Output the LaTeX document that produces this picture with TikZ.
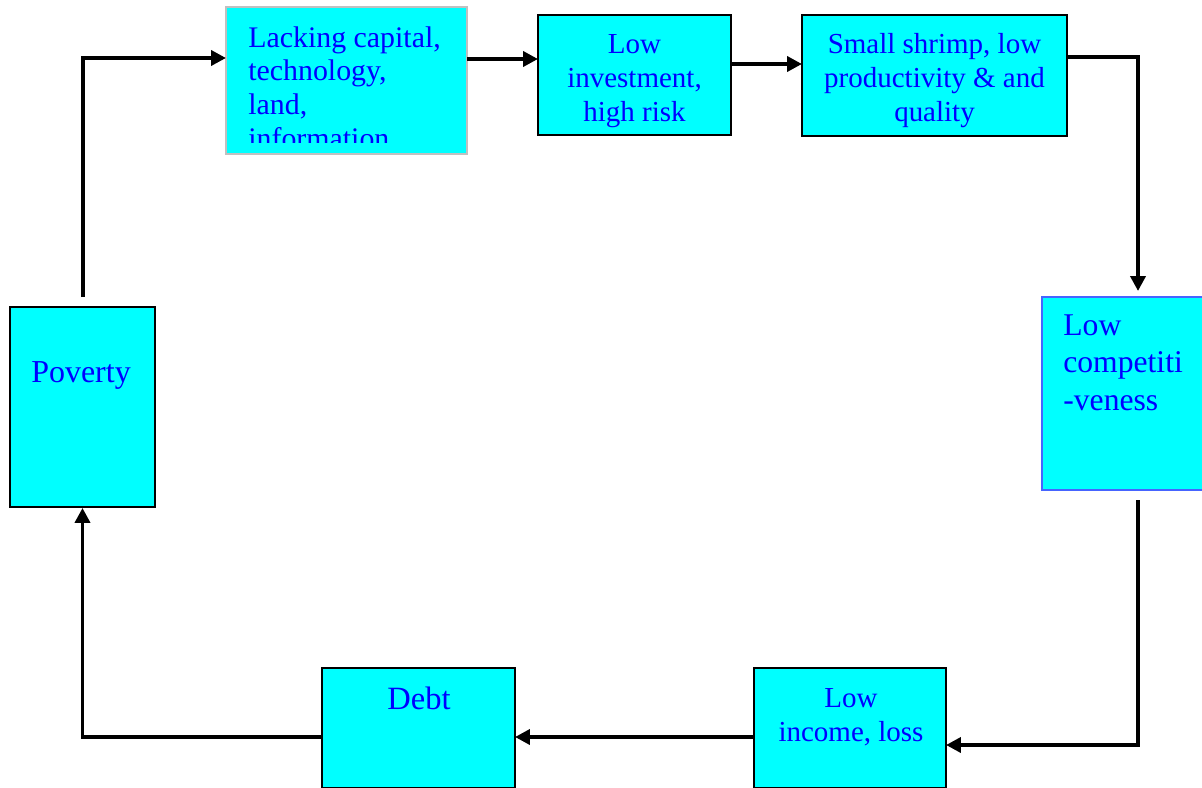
\documentclass[tikz,border=0pt]{standalone}
\usepackage{fontspec}
\setmainfont{Liberation Serif}
\usetikzlibrary{arrows.meta}
\definecolor{boxfill}{RGB}{0,255,255}
\definecolor{boxtext}{RGB}{0,0,255}
\definecolor{greyline}{RGB}{192,192,192}
\definecolor{blueline}{RGB}{70,100,255}

\begin{document}
\begin{tikzpicture}[x=0.02cm, y=-0.02cm, >={Triangle[length=8.5pt,width=8.5pt]},
  box/.style={draw, line width=1.1pt, fill=boxfill, inner sep=0pt},
  txt/.style={text=boxtext, inner sep=0pt, font=\fontsize{16.5}{19.4}\selectfont},
  link/.style={line width=2.1pt}]
  \useasboundingbox (0,0) rectangle (1202,787);
  % boxes
  \node[box, draw=greyline, minimum width=4.82cm, minimum height=2.94cm] (lack) at (346.5,80.5) {};
  \node[box, minimum width=3.86cm, minimum height=2.4cm] (inv) at (634.5,75) {};
  \node[box, minimum width=5.3cm, minimum height=2.42cm] (shrimp) at (934.5,75.5) {};
  \node[box, draw=blueline, minimum width=3.86cm, minimum height=3.86cm] (comp) at (1138.5,393.5) {};
  \node[box, minimum width=2.9cm, minimum height=4cm] (pov) at (82.5,407) {};
  \node[box, minimum width=3.86cm, minimum height=2.4cm] (debt) at (418.5,728) {};
  \node[box, minimum width=3.84cm, minimum height=2.4cm] (inc) at (850,728) {};
  % texts
  \begin{scope}
    \clip (228,9) rectangle (465,143);
    \node[txt, anchor=north west, align=left, font=\fontsize{17}{19.2}\selectfont] (lacktxt) at (248,26) {Lacking capital,\\technology,\\land,\\information};
  \end{scope}
  \node[txt, anchor=north, align=center] (invtxt) at (634.5,34) {Low\\investment,\\high risk};
  \node[txt, anchor=north, align=center] (shrimptxt) at (934.5,33) {Small shrimp, low\\productivity \& and\\quality};
  \node[txt, anchor=north west, align=left, font=\fontsize{18}{21.5}\selectfont] (comptxt) at (1063,314) {Low\\competiti\\-veness};
  \node[txt, anchor=north, font=\fontsize{18.2}{21}\selectfont] (povtxt) at (81,361) {Poverty};
  \node[txt, anchor=north, font=\fontsize{18.5}{21}\selectfont] (debttxt) at (419,687) {Debt};
  \node[txt, anchor=north, align=center] (inctxt) at (851,688) {Low\\income, loss};
  % connector ends
  \coordinate (povout) at (83,297);
  \coordinate (lackin) at (226,58);
  \coordinate (lackout) at (467,59);
  \coordinate (invin) at (538,59);
  \coordinate (invout) at (731,64);
  \coordinate (shrimpin) at (802,64);
  \coordinate (shrimpout) at (1067,57);
  \coordinate (compin) at (1138,291);
  \coordinate (compout) at (1138,500);
  \coordinate (incin) at (946,745);
  \coordinate (incout) at (754,737);
  \coordinate (debtin) at (515,737);
  \coordinate (debtout) at (322,737);
  % arrows
  \draw[link, ->] (povout) |- (lackin);
  \draw[link, ->] (lackout) -- (invin);
  \draw[link, ->] (invout) -- (shrimpin);
  \draw[link, ->] (shrimpout) -| (compin);
  \draw[link, ->] (compout) |- (incin);
  \draw[link, ->] (incout) -- (debtin);
  \draw[link, ->] (debtout) -| (pov.south);
\end{tikzpicture}
\end{document}
